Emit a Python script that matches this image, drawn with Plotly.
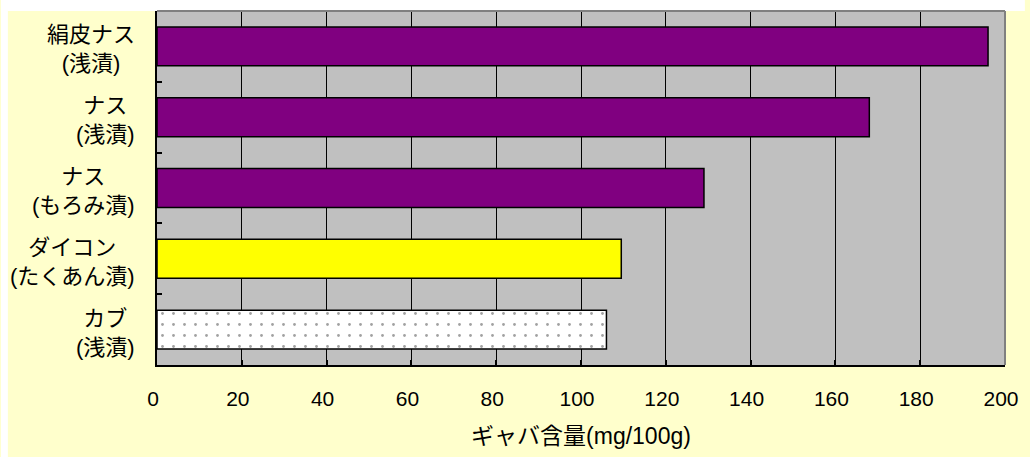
import plotly.graph_objects as go

categories = ["絹皮ナス<br>(浅漬)", "ナス<br>(浅漬)", "ナス<br>(もろみ漬)", "ダイコン<br>(たくあん漬)", "カブ<br>(浅漬)"]
values = [196, 168, 129, 109.5, 106]
bar_colors = ["#800080", "#800080", "#800080", "#FFFF00", "#FFFFFF"]
bar_patterns = ["", "", "", "", "."]
x_ticks = [0, 20, 40, 60, 80, 100, 120, 140, 160, 180, 200]
x_title = "ギャバ含量(mg/100g)"

W, H = 1030, 457
L, R, T, B = 157, 20, 11, 92
PW, PH = W - L - R, H - T - B
FONT = "Liberation Sans, Noto Sans CJK JP, Arial, sans-serif"

fig = go.Figure()
fig.add_trace(go.Bar(
    y=categories, x=values, orientation="h", width=0.55,
    marker=dict(
        color=bar_colors,
        line=dict(color="black", width=1.5),
        pattern=dict(shape=bar_patterns, fgcolor="#333333", bgcolor="#FAFAFA",
                     size=11, solidity=0.05, fillmode="overlay"),
    ),
    showlegend=False,
))

annotations = []
for c in categories:
    annotations.append(dict(
        x=(137 - L) / PW, xref="paper", y=c, yref="y",
        text=c, showarrow=False, xanchor="right", yanchor="middle", align="center",
        font=dict(size=22, color="black", family=FONT), yshift=-3,
    ))

shapes = [
    # white strips outside the chart area (left and top)
    dict(type="rect", xref="paper", yref="paper", x0=-L / PW, x1=(7 - L) / PW,
         y0=-B / PH, y1=(H - T) / PH, fillcolor="white", line=dict(width=0), layer="above"),
    dict(type="rect", xref="paper", yref="paper", x0=-L / PW, x1=(W - L) / PW,
         y0=1, y1=(H - T) / PH, fillcolor="white", line=dict(width=0), layer="above"),
    # gray top/right plot border
    dict(type="line", xref="paper", yref="paper", x0=0, x1=1, y0=1, y1=1, line=dict(color="#808080", width=2)),
    dict(type="line", xref="paper", yref="paper", x0=1, x1=1, y0=0, y1=1, line=dict(color="#808080", width=2)),
]

fig.update_layout(
    width=W, height=H,
    margin=dict(l=L, r=R, t=T, b=B),
    paper_bgcolor="#FFFFCC", plot_bgcolor="#C0C0C0",
    font=dict(family=FONT, size=21, color="black"),
    annotations=annotations, shapes=shapes,
    xaxis=dict(
        range=[0, 200], tickvals=x_ticks, ticktext=[str(v) for v in x_ticks],
        showgrid=True, gridcolor="black", gridwidth=1,
        showline=True, linecolor="black", linewidth=2,
        ticks="inside", ticklen=5, tickcolor="black", tickwidth=1.5,
        tickfont=dict(size=21, family=FONT), ticklabelstandoff=14, ticklabelshift=-4,
        zeroline=False, fixedrange=True,
        title=dict(text=x_title, font=dict(size=23, family=FONT), standoff=19),
    ),
    yaxis=dict(
        categoryorder="array", categoryarray=categories[::-1],
        showticklabels=False, showgrid=False,
        showline=True, linecolor="black", linewidth=2,
        ticks="inside", ticklen=5, tickcolor="black", tickwidth=1.5, tickson="boundaries",
        zeroline=False, fixedrange=True,
    ),
)

fig.write_html(
    "out.html",
    config=dict(displayModeBar=False),
    post_script="document.body.style.margin='0';document.body.style.overflow='hidden';",
)
